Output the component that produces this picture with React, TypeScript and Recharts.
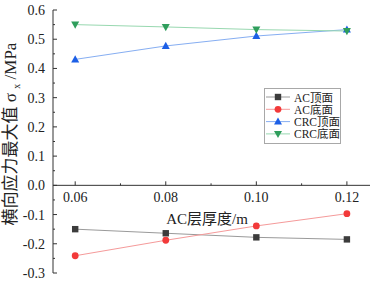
import { LineChart, Line, XAxis, YAxis, ReferenceLine } from 'recharts';

const thickness = [0.06, 0.08, 0.1, 0.12];
const acTop = [-0.15, -0.164, -0.178, -0.185];
const acBottom = [-0.241, -0.188, -0.139, -0.097];
const crcTop = [0.431, 0.477, 0.511, 0.533];
const crcBottom = [0.55, 0.542, 0.533, 0.528];

const xTicks = [0.06, 0.07, 0.08, 0.09, 0.1, 0.11, 0.12];
const xMajor = [0.06, 0.08, 0.1, 0.12];
const yTicks = [-0.3, -0.25, -0.2, -0.15, -0.1, -0.05, 0, 0.05, 0.1, 0.15, 0.2, 0.25, 0.3, 0.35, 0.4, 0.45, 0.5, 0.55, 0.6];
const yMajor = [-0.3, -0.2, -0.1, 0, 0.1, 0.2, 0.3, 0.4, 0.5, 0.6];

const FONT = '"Liberation Serif", "Noto Sans CJK SC", serif';
const W = 373;
const H = 283;
const TOP = 10;
const X_AXIS_H = 10;
const PLOT_H = H - TOP - X_AXIS_H;
const Y_MIN = -0.3;
const Y_MAX = 0.6;
// pixel row of y = 0, where the x axis crosses
const ZERO_Y = TOP + (PLOT_H * Y_MAX) / (Y_MAX - Y_MIN);

const series = [
  { key: 'acTop', name: 'AC顶面', line: '#9a9a9a', mark: '#3c3c3c', shape: 'square' },
  { key: 'acBottom', name: 'AC底面', line: '#f59a9a', mark: '#f23a3a', shape: 'circle' },
  { key: 'crcTop', name: 'CRC顶面', line: '#86aef2', mark: '#1c5fe6', shape: 'up' },
  { key: 'crcBottom', name: 'CRC底面', line: '#98d8b0', mark: '#2f9e5c', shape: 'down' },
];

const data = thickness.map((t, i) => ({
  t,
  acTop: acTop[i],
  acBottom: acBottom[i],
  crcTop: crcTop[i],
  crcBottom: crcBottom[i],
}));

function Marker({ shape, cx, cy, color }: { shape: string; cx: number; cy: number; color: string }) {
  if (shape === 'square') return <rect x={cx - 3.2} y={cy - 3.2} width={6.4} height={6.4} fill={color} />;
  if (shape === 'circle') return <circle cx={cx} cy={cy} r={3.4} fill={color} />;
  if (shape === 'up') return <polygon points={`${cx},${cy - 4.2} ${cx - 4},${cy + 3} ${cx + 4},${cy + 3}`} fill={color} />;
  return <polygon points={`${cx},${cy + 4.2} ${cx - 4},${cy - 3} ${cx + 4},${cy - 3}`} fill={color} />;
}

function XTick(props: any) {
  const { x, payload } = props;
  const major = xMajor.some(v => Math.abs(v - payload.value) < 1e-9);
  return (
    <g>
      <line x1={x} x2={x} y1={ZERO_Y} y2={ZERO_Y - (major ? 4 : 2)} stroke="#333" />
      {major && (
        <text x={x} y={ZERO_Y + 17} textAnchor="middle" fontSize={14} fill="#222" fontFamily={FONT}>
          {payload.value.toFixed(2)}
        </text>
      )}
    </g>
  );
}

function YTick(props: any) {
  const { x, y, payload } = props;
  const axisX = x + 8;
  const major = yMajor.some(v => Math.abs(v - payload.value) < 1e-9);
  return (
    <g>
      <line x1={axisX} x2={axisX + (major ? 4 : 2)} y1={y} y2={y} stroke="#333" />
      {major && (
        <text x={x} y={y + 5} textAnchor="end" fontSize={14} fill="#222" fontFamily={FONT}>
          {payload.value.toFixed(1)}
        </text>
      )}
    </g>
  );
}

function LegendBox() {
  return (
    <svg width={77} height={56} style={{ position: 'absolute', left: 264, top: 88, overflow: 'visible' }}>
      <rect x={0.5} y={0.5} width={76} height={55} fill="#fff" stroke="#a8a8a8" />
      {series.map((s, i) => {
        const cy = 9 + i * 12.3;
        return (
          <g key={s.key}>
            <line x1={2} x2={26} y1={cy} y2={cy} stroke={s.line} />
            <Marker shape={s.shape} cx={14} cy={cy} color={s.mark} />
            <text x={30} y={cy + 4.5} fontSize={11.5} fill="#222" fontFamily={FONT}>
              {s.name}
            </text>
          </g>
        );
      })}
    </svg>
  );
}

export default function App() {
  return (
    <div style={{ position: 'absolute', left: 0, top: 0, width: W, height: H, background: '#fff', fontFamily: FONT }}>
      <LineChart width={W} height={H} data={data} margin={{ top: TOP, right: 3, bottom: 0, left: 0 }}>
        <XAxis
          dataKey="t"
          type="number"
          domain={[0.0551, 0.1251]}
          ticks={xTicks}
          interval={0}
          height={X_AXIS_H}
          axisLine={false}
          tickLine={false}
          tick={<XTick />}
          allowDataOverflow
        />
        <YAxis
          type="number"
          domain={[Y_MIN, Y_MAX]}
          ticks={yTicks}
          interval={0}
          width={53}
          tickSize={0}
          tickMargin={8}
          tickLine={false}
          axisLine={{ stroke: '#333' }}
          tick={<YTick />}
          allowDataOverflow
        />
        <ReferenceLine y={0} stroke="#333" />
        {series.map(s => (
          <Line
            key={s.key}
            type="linear"
            dataKey={s.key}
            name={s.name}
            stroke={s.line}
            strokeWidth={1}
            isAnimationActive={false}
            dot={(p: any) => <Marker key={`${s.key}-${p.index}`} shape={s.shape} cx={p.cx} cy={p.cy} color={s.mark} />}
            activeDot={false}
          />
        ))}
      </LineChart>
      <LegendBox />
      <div
        style={{
          position: 'absolute',
          left: 207,
          top: 217,
          transform: 'translate(-50%, -50%)',
          fontSize: 15,
          color: '#222',
          whiteSpace: 'nowrap',
        }}
      >
        AC层厚度/m
      </div>
      <div
        style={{
          position: 'absolute',
          left: 14,
          top: 134,
          transform: 'translate(-50%, -50%) rotate(-90deg)',
          fontSize: 17,
          color: '#222',
          whiteSpace: 'nowrap',
          lineHeight: '18px',
        }}
      >
        横向应力最大值 σ <sub style={{ fontSize: 10 }}>x</sub> /MPa
      </div>
    </div>
  );
}
